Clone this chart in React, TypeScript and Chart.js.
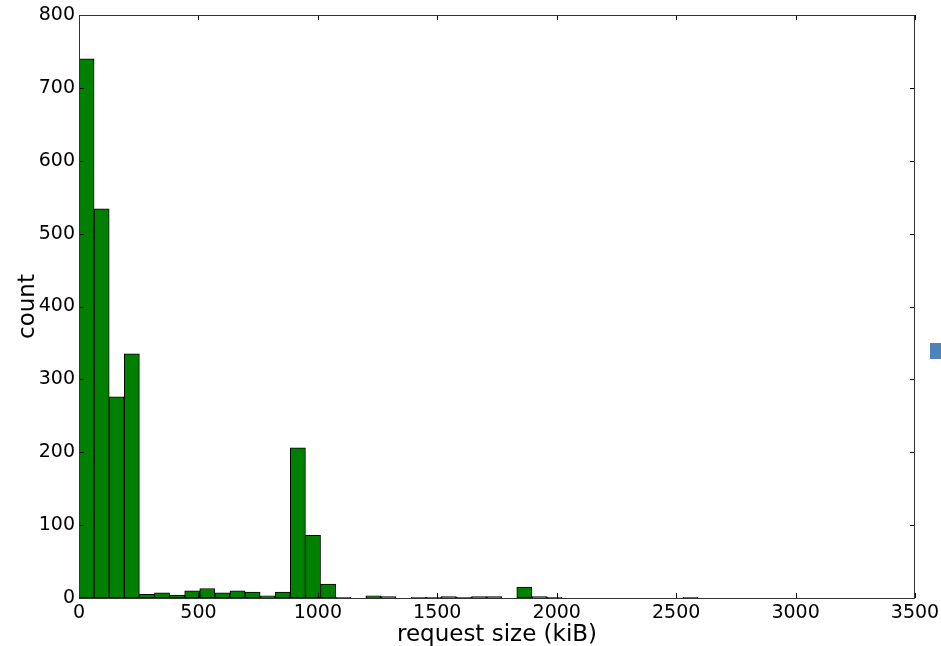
import React, { useEffect, useRef } from "react";
import { Chart, registerables } from "chart.js";

Chart.register(...registerables);

// Histogram bins (kiB)
const binWidth = 63.2;
const counts = [
  740, 534, 276, 335, 5, 7, 4, 10, 13, 7,
  10, 8, 3, 8, 206, 86, 19, 1, 0, 3,
  2, 0, 1, 1, 2, 1, 2, 2, 0, 15,
  2, 1, 0, 0, 0, 0, 0, 0, 0, 0,
  1, 0, 0, 0, 0, 0, 0, 0, 0, 0,
];
const xTicks = [0, 500, 1000, 1500, 2000, 2500, 3000, 3500];
const yTicks = [0, 100, 200, 300, 400, 500, 600, 700, 800];

const FONT = "'DejaVu Sans', sans-serif";

const framePlugin = {
  id: "frameTicks",
  afterDatasetsDraw(chart: any) {
    const { ctx, chartArea: a, scales } = chart;
    ctx.save();
    ctx.strokeStyle = "#000";
    ctx.lineWidth = 1;
    const L = 5;
    ctx.beginPath();
    for (const v of yTicks) {
      const y = Math.round(scales.y.getPixelForValue(v)) + 0.5;
      ctx.moveTo(a.left, y);
      ctx.lineTo(a.left + L, y);
      ctx.moveTo(a.right, y);
      ctx.lineTo(a.right - L, y);
    }
    for (const v of xTicks) {
      const x = Math.round(scales.x.getPixelForValue(v)) + 0.5;
      ctx.moveTo(x, a.bottom);
      ctx.lineTo(x, a.bottom - L);
      ctx.moveTo(x, a.top);
      ctx.lineTo(x, a.top + L);
    }
    ctx.stroke();
    ctx.strokeStyle = "#333";
    ctx.strokeRect(
      Math.round(a.left) + 0.5,
      Math.round(a.top) + 0.5,
      Math.round(a.right - a.left) - 1,
      Math.round(a.bottom - a.top)
    );
    ctx.restore();
  },
};

export default function App() {
  const ref = useRef<HTMLCanvasElement>(null);

  useEffect(() => {
    if (!ref.current) return;
    const data = counts.map((c, i) => ({ x: i * binWidth + binWidth / 2, y: c }));
    const chart = new Chart(ref.current, {
      type: "bar",
      data: {
        datasets: [
          {
            data: data as any,
            backgroundColor: "#008000",
            borderColor: "#000000",
            borderWidth: 1,
            barPercentage: 1,
            categoryPercentage: 1,
            borderSkipped: false,
          },
        ],
      },
      options: {
        animation: false,
        responsive: false,
        maintainAspectRatio: false,
        layout: { padding: { top: 15, right: 26, left: 0, bottom: 0 } },
        plugins: { legend: { display: false }, tooltip: { enabled: false } },
        scales: {
          x: {
            type: "linear",
            min: 0,
            max: 3500,
            offset: false,
            afterBuildTicks: (s: any) => {
              s.ticks = xTicks.map((v) => ({ value: v }));
            },
            afterFit: (s: any) => {
              s.height = 48;
              s.paddingLeft = 0;
              s.paddingRight = 0;
            },
            grid: { display: false, drawTicks: false, tickLength: 0, offset: false },
            border: { display: false },
            ticks: {
              font: { family: FONT, size: 19 },
              color: "#000",
              padding: 4,
              maxRotation: 0,
              autoSkip: false,
              callback: (v: any) => String(v),
            },
            title: {
              display: true,
              text: "request size (kiB)",
              font: { family: FONT, size: 23 },
              color: "#000",
              padding: { top: 0, bottom: -3 },
            },
          },
          y: {
            min: 0,
            max: 800,
            afterBuildTicks: (s: any) => {
              s.ticks = yTicks.map((v) => ({ value: v }));
            },
            afterFit: (s: any) => {
              s.width = 79;
              s.paddingTop = 0;
              s.paddingBottom = 0;
            },
            grid: { display: false, drawTicks: false, tickLength: 0 },
            border: { display: false },
            ticks: {
              font: { family: FONT, size: 19 },
              color: "#000",
              padding: 4,
              autoSkip: false,
              callback: (v: any) => String(v),
            },
            title: {
              display: true,
              text: "count",
              font: { family: FONT, size: 23 },
              color: "#000",
              padding: { top: 14, bottom: 0 },
            },
          },
        },
      },
      plugins: [framePlugin],
    });
    return () => chart.destroy();
  }, []);

  return (
    <div
      style={{
        position: "fixed",
        left: 0,
        top: 0,
        width: 941,
        height: 646,
        background: "#fff",
        overflow: "hidden",
      }}
    >
      <canvas ref={ref} width={941} height={646} style={{ display: "block" }} />
      <div
        style={{
          position: "absolute",
          left: 930,
          top: 343,
          width: 11,
          height: 16,
          background: "#4f81bd",
        }}
      />
    </div>
  );
}
